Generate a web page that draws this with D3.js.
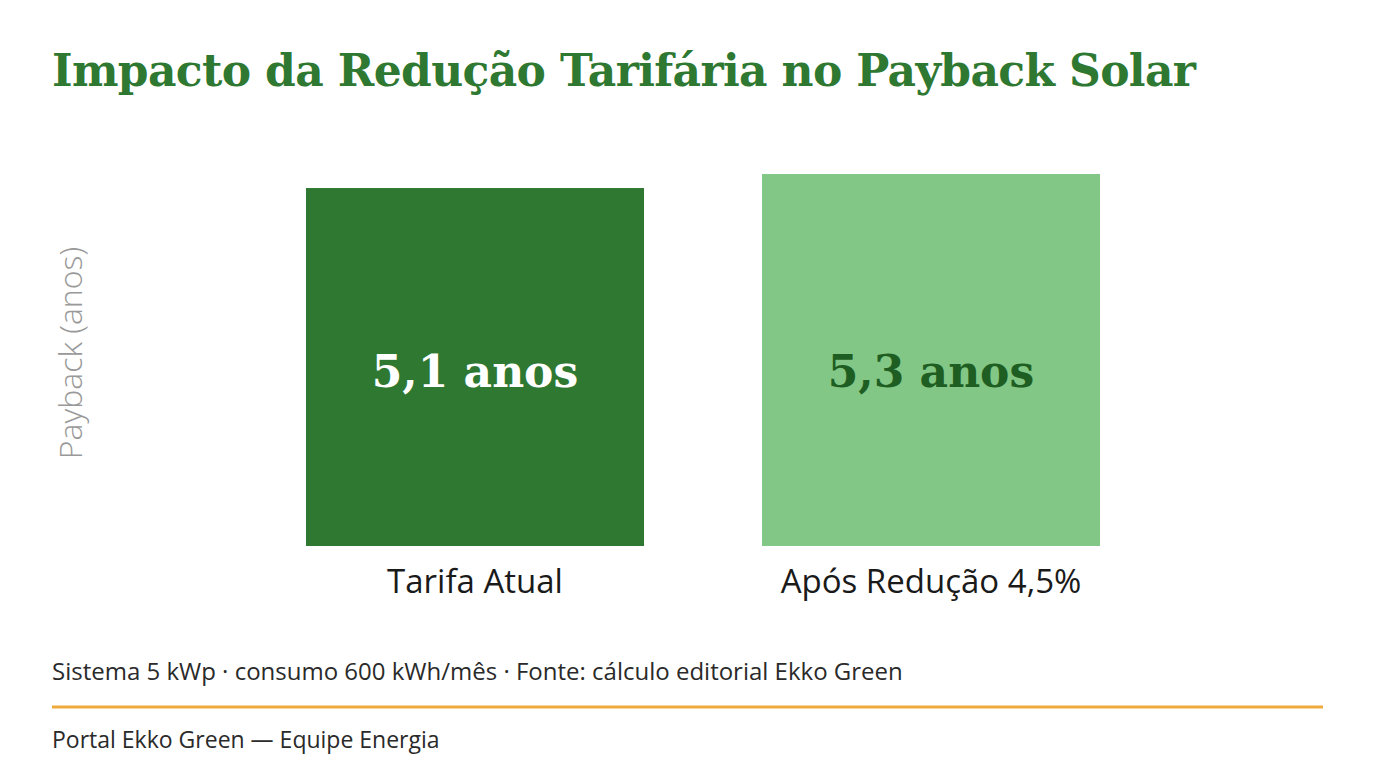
<!DOCTYPE html>
<html><head><meta charset="utf-8">
<script src="https://cdn.jsdelivr.net/npm/d3@7"></script>
<style>body{margin:0;background:#fff}</style>
</head><body>
<svg id="chart" width="1376" height="768"></svg>
<script>
// data
const categories = ["Tarifa Atual", "Após Redução 4,5%"];
const payback = [5.1, 5.3];
const valueLabels = ["5,1 anos", "5,3 anos"];
const barColors = ["#2e7832", "#82c785"];
const labelColors = ["#ffffff", "#1e5e22"];

const svg = d3.select("#chart");
const serif = "'DejaVu Serif', 'Liberation Serif', serif";
const sans = "'Open Sans', 'Noto Sans', sans-serif";

svg.append("text").attr("x", 52).attr("y", 86)
    .attr("font-family", serif).attr("font-weight", "bold").attr("font-size", 44)
    .attr("fill", "#2e7832").attr("textLength", 1144)
    .text("Impacto da Redução Tarifária no Payback Solar");

const x = d3.scaleBand().domain(categories).range([306, 1100]).paddingInner(118 / 456).paddingOuter(0);
const y = d3.scaleLinear().domain([0, 5.3]).range([546, 174]);

const g = svg.append("g");
g.selectAll("rect").data(categories).join("rect")
    .attr("x", d => x(d)).attr("width", x.bandwidth())
    .attr("y", (d, i) => y(payback[i])).attr("height", (d, i) => y(0) - y(payback[i]))
    .attr("fill", (d, i) => barColors[i]);

g.selectAll(".val").data(categories).join("text")
    .attr("x", d => x(d) + x.bandwidth() / 2).attr("y", 387)
    .attr("text-anchor", "middle").attr("font-family", serif).attr("font-weight", "bold")
    .attr("font-size", 44).attr("fill", (d, i) => labelColors[i])
    .text((d, i) => valueLabels[i]);

g.selectAll(".cat").data(categories).join("text")
    .attr("x", d => x(d) + x.bandwidth() / 2).attr("y", 593)
    .attr("text-anchor", "middle").attr("font-family", sans).attr("font-size", 33)
    .attr("fill", "#1a1a1a").text(d => d);

svg.append("text").attr("transform", "translate(82,353) rotate(-90)")
    .attr("text-anchor", "middle").attr("font-family", sans).attr("font-weight", 300)
    .attr("font-size", 32).attr("fill", "#999").text("Payback (anos)");

svg.append("text").attr("x", 52).attr("y", 680).attr("font-family", sans)
    .attr("font-size", 24).attr("fill", "#2a2a2a")
    .text("Sistema 5 kWp · consumo 600 kWh/mês · Fonte: cálculo editorial Ekko Green");

svg.append("line").attr("x1", 52).attr("x2", 1323).attr("y1", 707).attr("y2", 707)
    .attr("stroke", "#eeaa3c").attr("stroke-width", 3);

svg.append("text").attr("x", 52).attr("y", 748).attr("font-family", sans)
    .attr("font-size", 23).attr("fill", "#2a2a2a")
    .text("Portal Ekko Green — Equipe Energia");
</script>
</body></html>
